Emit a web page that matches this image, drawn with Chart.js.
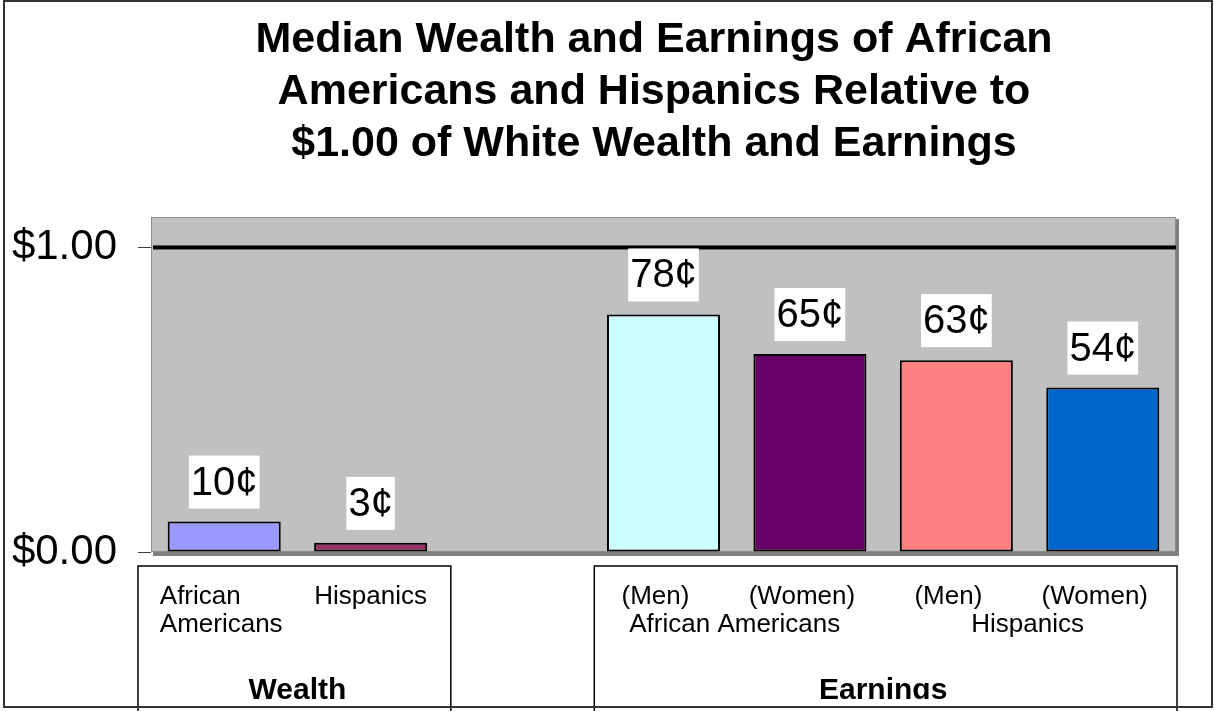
<!DOCTYPE html>
<html>
<head>
<meta charset="utf-8">
<script src="https://cdn.jsdelivr.net/npm/chart.js@4/dist/chart.umd.min.js"></script>
<style>
  body { margin: 0; background: #fff; }
  canvas { display: block; }
</style>
</head>
<body>
<canvas id="myChartRichesse" width="1215" height="711"></canvas>
<script>
//? Données du graphique.

const titreGraphique = [
  "Median Wealth and Earnings of African",
  "Americans and Hispanics Relative to",
  "$1.00 of White Wealth and Earnings",
];
const categories = [["African", "Americans"], ["Hispanics"], [], ["(Men)"], ["(Women)"], ["(Men)"], ["(Women)"]];
const valeurs = [0.10, 0.03, null, 0.78, 0.65, 0.63, 0.54];
const couleursBarres = ["#9999FF", "#993366", "#C0C0C0", "#CCFFFF", "#660066", "#FF8080", "#0066CC"];
const ticksY = [0, 1];
const sousGroupes = ["African Americans", "Hispanics"];
const sousGroupesDebut = [3, 5];
const sousGroupesFin = [4, 6];
const groupes = ["Wealth", "Earnings"];
const groupesDebut = [0, 3];
const groupesFin = [1, 6];

//? -------------------------------------------------

const police = '"Liberation Sans", Arial, Helvetica, sans-serif';

//? Fond gris, ligne $1.00, étiquettes, cadres du bas.

const pluginDecor = {
  id: "decor",
  beforeDraw(chart) {
    const { ctx, chartArea: a } = chart;
    ctx.save();
    ctx.fillStyle = "#fff";
    ctx.fillRect(0, 0, chart.width, chart.height);

    // ombre + zone grise
    ctx.fillStyle = "#808080";
    ctx.fillRect(a.left + 2, a.top + 2, a.right - a.left + 1, a.bottom - a.top + 2);
    ctx.fillStyle = "#C0C0C0";
    ctx.fillRect(a.left, a.top, a.right - a.left, a.bottom - a.top);
    ctx.strokeStyle = "#8C8C8C";
    ctx.lineWidth = 1;
    ctx.strokeRect(a.left + 0.5, a.top + 0.5, a.right - a.left - 1, a.bottom - a.top - 1);

    // ligne noire à $1.00
    const y1 = chart.scales.y.getPixelForValue(1);
    ctx.fillStyle = "#000";
    ctx.fillRect(a.left + 2, y1 - 2, a.right - a.left - 2, 4);
    ctx.restore();
  },

  afterDatasetsDraw(chart) {
    const { ctx } = chart;
    const meta = chart.getDatasetMeta(0);
    ctx.save();
    ctx.font = `40px ${police}`;
    ctx.textAlign = "center";
    ctx.textBaseline = "alphabetic";
    meta.data.forEach((barre, i) => {
      const v = valeurs[i];
      if (v == null) return;
      const texte = Math.round(v * 100) + "¢";
      const w = ctx.measureText(texte).width;
      const base = barre.y - 13 - 14;
      ctx.fillStyle = "#fff";
      ctx.fillRect(barre.x - w / 2 - 2, base - 39, w + 4, 53);
      ctx.fillStyle = "#000";
      ctx.fillText(texte, barre.x, base);
    });
    ctx.restore();
  },

  afterDraw(chart) {
    const { ctx, chartArea: a } = chart;
    const x = chart.scales.x;
    const demiCase = (x.getPixelForValue(1) - x.getPixelForValue(0)) / 2;
    ctx.save();

    // titre
    ctx.fillStyle = "#000";
    ctx.font = `bold 43px ${police}`;
    ctx.textAlign = "center";
    ctx.textBaseline = "alphabetic";
    titreGraphique.forEach((ligne, i) => ctx.fillText(ligne, 654, 52 + i * 52));

    // cadres des groupes
    const margesG = [-13, 4];
    const margesD = [7, 1];
    ctx.strokeStyle = "#000";
    ctx.lineWidth = 1.5;
    groupes.forEach((g, i) => {
      const gauche = x.getPixelForValue(groupesDebut[i]) - demiCase + margesG[i];
      const droite = x.getPixelForValue(groupesFin[i]) + demiCase + margesD[i];
      ctx.fillStyle = "#fff";
      ctx.fillRect(gauche, a.bottom + 14, droite - gauche, chart.height);
      ctx.strokeRect(gauche, a.bottom + 14, droite - gauche, chart.height);
    });

    // étiquettes des catégories
    ctx.fillStyle = "#000";
    ctx.font = `26px ${police}`;
    categories.forEach((lignes, i) => {
      const cx = x.getPixelForValue(i);
      if (lignes.length > 1) {
        const largeur = Math.max(...lignes.map((l) => ctx.measureText(l).width));
        ctx.textAlign = "left";
        lignes.forEach((l, k) => ctx.fillText(l, cx - largeur / 2 - 3, a.bottom + 52 + k * 28));
      } else if (lignes.length === 1) {
        ctx.textAlign = "center";
        const decalage = i >= 3 ? -8 : 0;
        ctx.fillText(lignes[0], cx + decalage, a.bottom + 52);
      }
    });

    // sous-groupes (deuxième ligne)
    ctx.textAlign = "center";
    sousGroupes.forEach((s, i) => {
      const cx = (x.getPixelForValue(sousGroupesDebut[i]) + x.getPixelForValue(sousGroupesFin[i])) / 2 - 2;
      ctx.fillText(s, cx, a.bottom + 80);
    });

    // groupes (coupés en bas comme l'original)
    ctx.save();
    ctx.beginPath();
    ctx.rect(0, 0, chart.width, a.bottom + 147);
    ctx.clip();
    ctx.font = `bold 30px ${police}`;
    groupes.forEach((g, i) => {
      const cx = (x.getPixelForValue(groupesDebut[i]) + x.getPixelForValue(groupesFin[i])) / 2;
      ctx.fillText(g, cx, a.bottom + 147);
    });
    ctx.restore();

    // cadre extérieur
    ctx.strokeStyle = "#333";
    ctx.lineWidth = 2;
    ctx.strokeRect(4, 1, 1208, 706);
    ctx.restore();
  },
};

//? -------------------------------------------------

//? Construction du graphique.

let constructionDuGraphique = () => {
  try {
    const ctxRichesse = document.getElementById("myChartRichesse").getContext("2d");

    const data = {
      labels: categories.map((c) => c.join(" ")),
      datasets: [
        {
          label: "Relative to $1.00",
          data: valeurs,
          backgroundColor: couleursBarres,
          borderColor: "#000",
          borderWidth: 2,
          borderSkipped: false,
          categoryPercentage: 1,
          barPercentage: 0.772,
        },
      ],
    };

    const options = {
      responsive: false,
      devicePixelRatio: 1,
      animation: false,
      layout: { padding: { top: 217, bottom: 159, left: 0, right: 39 } },
      plugins: {
        legend: { display: false },
        title: { display: false },
        tooltip: { enabled: false },
      },
      scales: {
        x: { display: false },
        y: {
          min: 0,
          max: 1.1,
          afterBuildTicks: (scale) => {
            scale.ticks = ticksY.map((v) => ({ value: v }));
          },
          afterFit: (scale) => {
            scale.width = 151;
          },
          border: { display: false },
          grid: {
            drawOnChartArea: false,
            drawTicks: true,
            tickLength: 13,
            color: "#404040",
            lineWidth: 1,
          },
          ticks: {
            padding: 21,
            color: "#000",
            font: { family: police, size: 42 },
            callback: (v) => "$" + Number(v).toFixed(2),
          },
        },
      },
    };

    new Chart(ctxRichesse, { type: "bar", data, options, plugins: [pluginDecor] });
  } catch (error) {
    console.log("🔴 ERREUR | Construction graphique :", error);
  }
};

constructionDuGraphique();
</script>
</body>
</html>
